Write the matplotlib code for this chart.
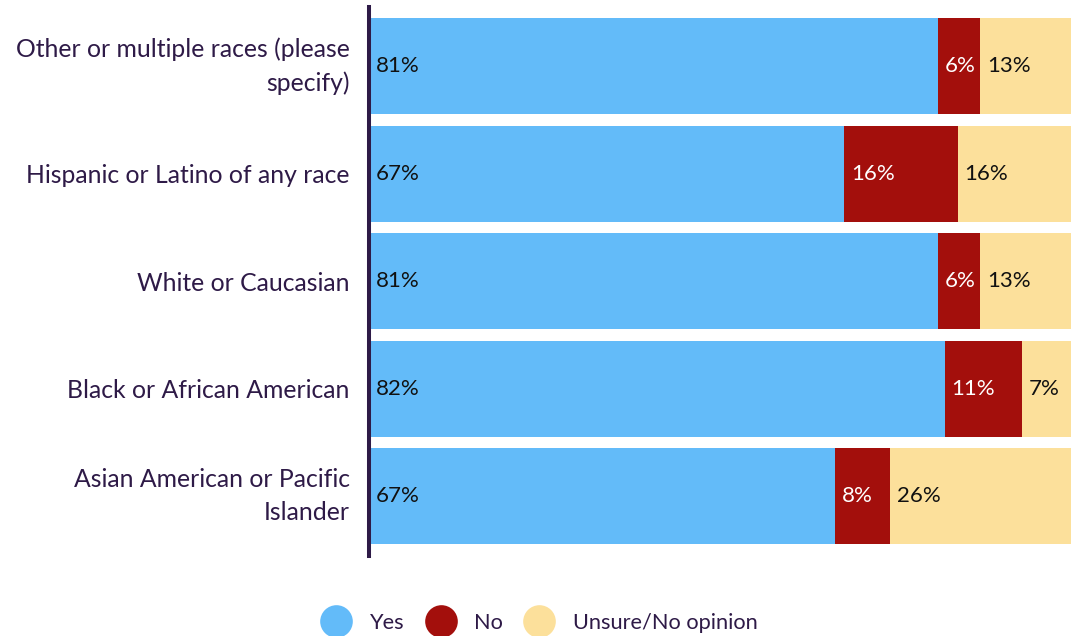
import matplotlib.pyplot as plt
import numpy as np
from matplotlib.lines import Line2D

plt.rcParams["font.family"] = ["Lato", "DejaVu Sans"]

categories = [
    "Other or multiple races (please\nspecify)",
    "Hispanic or Latino of any race",
    "White or Caucasian",
    "Black or African American",
    "Asian American or Pacific\nIslander",
]
yes = [81, 67, 81, 82, 67]
no = [6, 16, 6, 11, 8]
unsure = [13, 16, 13, 7, 26]
series_names = ["Yes", "No", "Unsure/No opinion"]

COLORS = ["#63bbf9", "#a30f0c", "#fce09b"]
TEXT_COLORS = ["#111111", "#ffffff", "#111111"]
LABEL_COLOR = "#2e1a47"


def main():
    fig = plt.figure(figsize=(10.77, 6.36), dpi=100)
    ax = fig.add_axes([369 / 1077, 1 - 556 / 636, 702 / 1077, 549 / 636])

    vals = np.array([yes, no, unsure], dtype=float)
    # each row is stretched to fill the full width
    shares = vals / vals.sum(axis=0) * 100
    ypos = np.arange(len(categories))
    left = np.zeros(len(categories))
    for i in range(3):
        ax.barh(ypos, shares[i], left=left, height=0.893,
                color=COLORS[i], linewidth=0)
        for j in range(len(categories)):
            ax.text(left[j] + 1.0, ypos[j], "%d%%" % vals[i, j],
                    ha="left", va="center", fontsize=16,
                    color=TEXT_COLORS[i])
        left += shares[i]

    ax.set_xlim(0, 100)
    ax.set_ylim(4.558, -0.549)
    ax.set_yticks(ypos)
    ax.set_yticklabels(categories, fontsize=17.8, color=LABEL_COLOR,
                       linespacing=1.55)
    for lab in ax.get_yticklabels():
        if "\n" in lab.get_text():
            lab.set_va("center")
    ax.tick_params(axis="y", length=0, pad=14)
    ax.set_xticks([])
    for s in ["top", "right", "bottom"]:
        ax.spines[s].set_visible(False)
    ax.spines["left"].set_linewidth(2.9)
    ax.spines["left"].set_color(LABEL_COLOR)

    handles = [Line2D([], [], marker="o", ls="", markersize=23.5,
                      markerfacecolor=c, markeredgewidth=0) for c in COLORS]
    leg = fig.legend(handles, series_names, loc="center",
                     bbox_to_anchor=(536 / 1077, 1 - 623 / 636), ncol=3,
                     frameon=False, fontsize=15.7, handletextpad=0.55,
                     columnspacing=0.65, borderpad=0)
    for t in leg.get_texts():
        t.set_color(LABEL_COLOR)

    fig.savefig("out.png", dpi=100)


if __name__ == "__main__":
    main()
